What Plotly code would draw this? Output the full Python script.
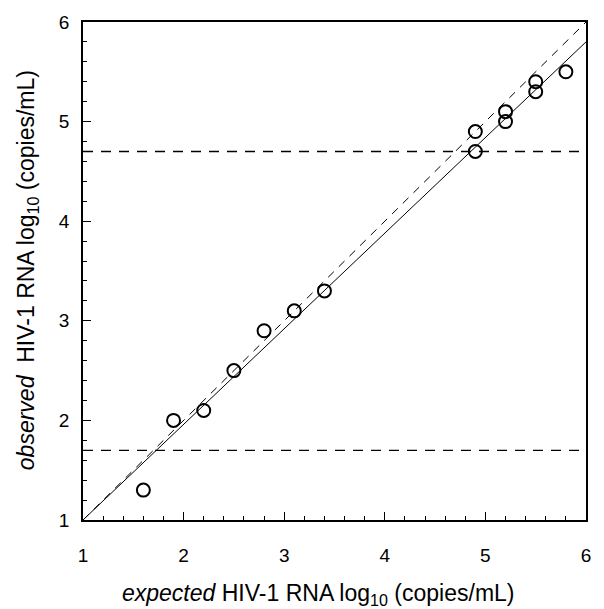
import plotly.graph_objects as go

# data
expected = [1.6, 1.9, 2.2, 2.5, 2.8, 3.1, 3.4, 4.9, 4.9, 5.2, 5.2, 5.5, 5.5, 5.8]
observed = [1.3, 2.0, 2.1, 2.5, 2.9, 3.1, 3.3, 4.9, 4.7, 5.1, 5.0, 5.4, 5.3, 5.5]
fit_x = [1, 6]
fit_y = [1, 5.8]
identity = [1, 6]
limits = [1.7, 4.7]
ticks = [1, 2, 3, 4, 5, 6]
x_title = "<i>expected</i> HIV-1 RNA log<sub>10</sub> (copies/mL)"
y_title = "<i>observed</i>  HIV-1 RNA log<sub>10</sub> (copies/mL)"

fig = go.Figure()
fig.add_trace(go.Scatter(x=identity, y=identity, mode="lines",
                         line=dict(color="black", width=1, dash="8px,7px"), showlegend=False))
fig.add_trace(go.Scatter(x=fit_x, y=fit_y, mode="lines",
                         line=dict(color="black", width=1), showlegend=False))
for lv in limits:
    fig.add_trace(go.Scatter(x=[1, 6], y=[lv, lv], mode="lines",
                             line=dict(color="black", width=1.3, dash="10px,8px"), showlegend=False))
fig.add_trace(go.Scatter(x=expected, y=observed, mode="markers",
                         marker=dict(symbol="circle-open", size=13, color="black",
                                     line=dict(width=2, color="black")),
                         showlegend=False))

font = dict(family="Liberation Sans, Arial, sans-serif", color="black")
axis_common = dict(range=[1, 6], tickvals=ticks, ticks="inside", ticklen=8, tickwidth=1,
                   tickcolor="black", showline=True, linecolor="black", linewidth=1.5,
                   mirror=True, showgrid=False, zeroline=False, automargin=False,
                   tickfont=dict(size=19, **font),
                   minor=dict(dtick=0.2, ticks="inside", ticklen=4, tickcolor="black", showgrid=False))
fig.update_layout(
    width=596, height=601,
    margin=dict(l=75, r=18, t=14, b=89),
    plot_bgcolor="white", paper_bgcolor="white",
    font=font,
    xaxis=dict(**axis_common, ticklabelstandoff=17),
    yaxis=dict(**axis_common, ticklabelstandoff=8),
    annotations=[
        dict(text=x_title, xref="paper", yref="paper", x=0.469, y=-0.149,
             xanchor="center", yanchor="middle", showarrow=False, font=dict(size=23, **font)),
        dict(text=y_title, xref="paper", yref="paper", x=-0.111, y=0.502, textangle=-90,
             xanchor="center", yanchor="middle", showarrow=False, font=dict(size=23, **font)),
    ],
)
fig.write_html("out.html")
